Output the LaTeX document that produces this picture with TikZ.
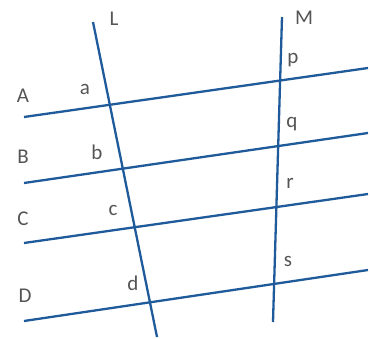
\documentclass[tikz,border=0pt]{standalone}
\usepackage{fontspec}
\setmainfont{Carlito}
\usepackage{xcolor}
\usepackage{tikz}
\usetikzlibrary{positioning, calc}
\definecolor{lineblue}{HTML}{1F5A9A}
\definecolor{labelgrey}{HTML}{555555}

\tikzset{
  trans/.style={draw=lineblue, line width=2.3pt},
  lbl/.style={text=labelgrey, inner sep=0pt, font=\fontsize{21}{24}\selectfont}
}

\begin{document}
\begin{tikzpicture}[x=1pt, y=-1pt]
    \useasboundingbox (0,0) rectangle (370,338);
    % end points of the lines
    \coordinate (Ltop) at (93,22);
    \coordinate (Lbot) at (157,337);
    \coordinate (Mtop) at (282,17);
    \coordinate (Mbot) at (273,322);
    \coordinate (Aleft) at (24,117);
    \coordinate (Aright) at (368,68);
    \coordinate (Bleft) at (24,183);
    \coordinate (Bright) at (368,133);
    \coordinate (Cleft) at (24,243);
    \coordinate (Cright) at (368,194);
    \coordinate (Dleft) at (24,321);
    \coordinate (Dright) at (368,270);

    \draw[trans] (Ltop) -- (Lbot);
    \draw[trans] (Mtop) -- (Mbot);
    \draw[trans] (Aleft) -- (Aright);
    \draw[trans] (Bleft) -- (Bright);
    \draw[trans] (Cleft) -- (Cright);
    \draw[trans] (Dleft) -- (Dright);

    % labels
    \node[lbl] (labL) at (114,19) {L};
    \node[lbl] (labM) at (304,18) {M};
    \node[lbl] (labA) at (23,96) {A};
    \node[lbl] (labB) at (23,157) {B};
    \node[lbl] (labC) at (23,219) {C};
    \node[lbl] (labD) at (25,296) {D};
    \node[lbl] (laba) at (85,89) {a};
    \node[lbl] (labb) at (97,152) {b};
    \node[lbl] (labc) at (113,210) {c};
    \node[lbl] (labd) at (133,283) {d};
    \node[lbl] (labp) at (293,60) {p};
    \node[lbl] (labq) at (292,124) {q};
    \node[lbl] (labr) at (290,183) {r};
    \node[lbl] (labs) at (288,261) {s};
\end{tikzpicture}
\end{document}
